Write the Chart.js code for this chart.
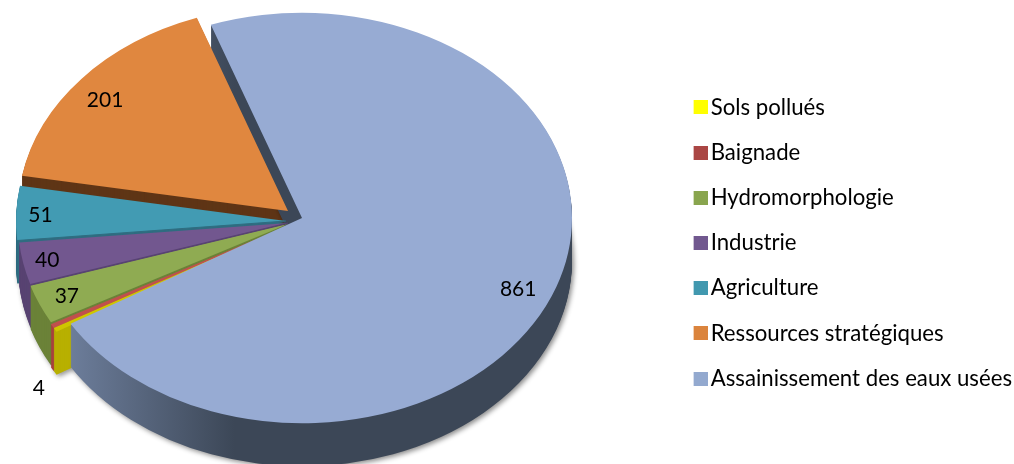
<!DOCTYPE html>
<html>
<head>
<meta charset="utf-8">
<title>Pie</title>
<script src="https://cdn.jsdelivr.net/npm/chart.js@4"></script>
<style>
    html, body { margin: 0; padding: 0; background: #fff; }
    canvas { display: block; }
</style>
</head>
<body>
<canvas id="chart-pie" width="1014" height="464"></canvas>
<script>
// Data
const categories = ['Sols pollués', 'Baignade', 'Hydromorphologie', 'Industrie', 'Agriculture', 'Ressources stratégiques', 'Assainissement des eaux usées'];
const values = [4, 4, 37, 40, 51, 201, 861];
const valueLabels = ['4', '', '37', '40', '51', '201', '861'];

// Colours
const legendColors = ['#ffff00', '#aa4644', '#89a54e', '#71588f', '#4198af', '#db843d', '#93a9cf'];
const topColors = ['#cfc600', '#c0504d', '#8fab52', '#72578f', '#429bb3', '#e0873f', '#97abd3'];
const wallColors = ['#b8b000', '#a8423f', '#6b8238', '#584372', '#2f6d80', '#5f3516', '#3c4757'];

// Layout of the fake 3D pie
const pieX = 288, pieY = 218, pieRadius = 270, tilt = 0.76, depth = 43;
const shiftX = [0, 0, 0, 0, -2, 0, 14];
const shiftY = [8, 8, 6, 5, 3, -7, 0];
const labelRadius = [1.07, 1.0, 0.89, 0.91, 0.91, 0.885, 0.85];
const labelDrop = [51, 0, 1, 0, 1, 6, 13];

function sectorPath(ctx, arc) {
    const p = arc.getProps(['x', 'y', 'startAngle', 'endAngle', 'outerRadius'], true);
    ctx.beginPath();
    ctx.moveTo(p.x, p.y);
    ctx.arc(p.x, p.y, p.outerRadius, p.startAngle, p.endAngle);
    ctx.closePath();
}

function placeSlice(ctx, arc, i, drop) {
    ctx.translate(pieX + shiftX[i], pieY + shiftY[i] + drop);
    ctx.scale(1, tilt);
    ctx.translate(-arc.x, -arc.y);
}

function drawWall(ctx, arc, i, fill) {
    for (let d = depth; d > 0; d--) {
        ctx.save();
        if (d === depth) {
            ctx.shadowColor = 'rgba(0, 0, 0, 0.45)';
            ctx.shadowBlur = 5;
            ctx.shadowOffsetX = 2;
            ctx.shadowOffsetY = 2;
        }
        placeSlice(ctx, arc, i, d);
        sectorPath(ctx, arc);
        ctx.fillStyle = fill;
        ctx.fill();
        ctx.restore();
    }
}

function drawTop(ctx, arc, i) {
    ctx.save();
    placeSlice(ctx, arc, i, 0);
    arc.draw(ctx);
    ctx.restore();
}

// Thin dark line between two neighbouring slices
function drawEdge(ctx, arc, i) {
    ctx.save();
    placeSlice(ctx, arc, i, 0);
    ctx.beginPath();
    ctx.moveTo(arc.x, arc.y);
    ctx.lineTo(arc.x + Math.cos(arc.startAngle) * arc.outerRadius, arc.y + Math.sin(arc.startAngle) * arc.outerRadius);
    ctx.restore();
    ctx.strokeStyle = wallColors[i];
    ctx.lineWidth = 1.2;
    ctx.stroke();
}

const pie3d = {
    id: 'pie3d',
    beforeDatasetDraw(chart, args) {
        const ctx = chart.ctx;
        const arcs = args.meta.data;
        const blue = arcs.length - 1;
        const orange = blue - 1;

        for (let i = orange; i >= 0; i--) {
            drawWall(ctx, arcs[i], i, wallColors[i]);
        }

        const grad = ctx.createLinearGradient(72, 0, 270, 0);
        grad.addColorStop(0, '#7688a8');
        grad.addColorStop(1, wallColors[blue]);
        drawWall(ctx, arcs[blue], blue, grad);

        for (let i = orange - 1; i >= 0; i--) {
            drawTop(ctx, arcs[i], i);
        }
        drawEdge(ctx, arcs[4], 4);
        drawEdge(ctx, arcs[3], 3);
        drawTop(ctx, arcs[orange], orange);
        drawTop(ctx, arcs[blue], blue);
        return false;
    },
    afterDatasetsDraw(chart) {
        const ctx = chart.ctx;
        const arcs = chart.getDatasetMeta(0).data;
        ctx.save();
        ctx.font = '21px Lato';
        ctx.fillStyle = '#000';
        ctx.textAlign = 'center';
        ctx.textBaseline = 'middle';
        arcs.forEach(function(arc, i) {
            if (!valueLabels[i]) return;
            const mid = (arc.startAngle + arc.endAngle) / 2;
            const r = arc.outerRadius * labelRadius[i];
            const x = pieX + shiftX[i] + Math.cos(mid) * r;
            const y = pieY + shiftY[i] + Math.sin(mid) * r * tilt + labelDrop[i];
            ctx.fillText(valueLabels[i], x, y);
        });
        ctx.restore();
    }
};

// Legend swatch, with empty space on its left so the text sits close to the square
function swatch(color) {
    const c = document.createElement('canvas');
    c.width = 18;
    c.height = 14;
    const g = c.getContext('2d');
    g.fillStyle = color;
    g.fillRect(4, 0, 14, 14);
    return c;
}

new Chart(document.getElementById('chart-pie'), {
    type: 'pie',
    plugins: [pie3d],
    data: {
        labels: categories,
        datasets: [{
            data: values,
            backgroundColor: topColors,
            borderWidth: 0,
            radius: pieRadius,
            clip: false
        }]
    },
    options: {
        responsive: false,
        animation: false,
        rotation: 239,
        layout: { padding: { top: 22, right: -8 } },
        plugins: {
            tooltip: { enabled: false },
            legend: {
                position: 'right',
                labels: {
                    color: '#000',
                    font: { family: 'Lato', size: 22.2 },
                    boxWidth: 2,
                    boxHeight: 14,
                    padding: 23,
                    usePointStyle: true,
                    generateLabels: function(chart) {
                        return categories.map(function(name, i) {
                            return {
                                text: name,
                                fillStyle: legendColors[i],
                                strokeStyle: legendColors[i],
                                lineWidth: 0,
                                pointStyle: swatch(legendColors[i]),
                                index: i
                            };
                        });
                    }
                }
            }
        }
    }
});
</script>
</body>
</html>
